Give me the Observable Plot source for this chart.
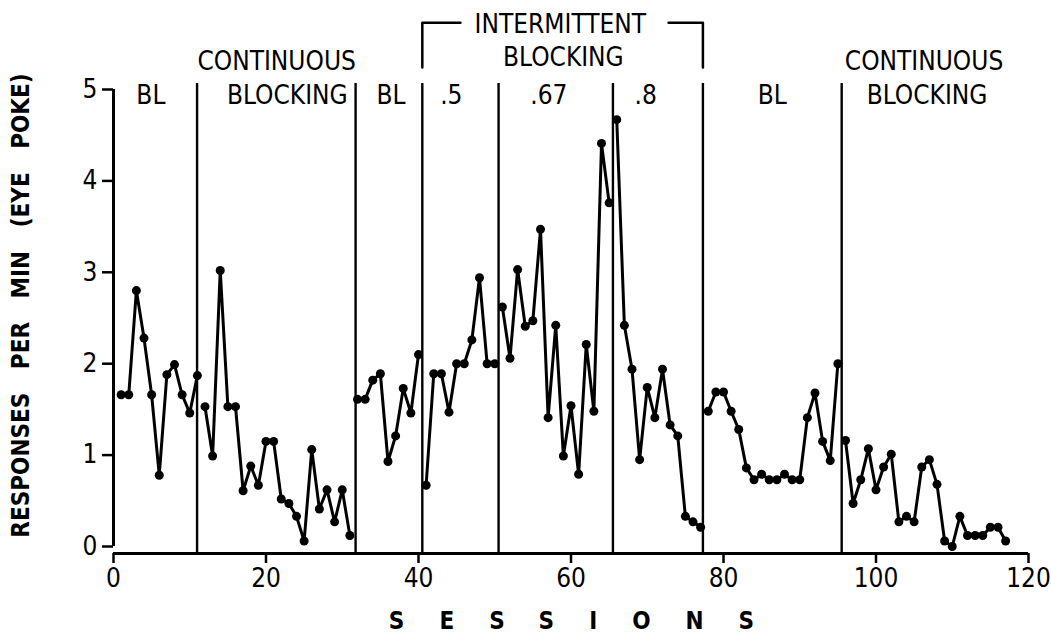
<!DOCTYPE html>
<html>
<head>
<meta charset="utf-8">
<script src="https://cdn.jsdelivr.net/npm/d3@7"></script>
<script src="https://cdn.jsdelivr.net/npm/@observablehq/plot@0.6"></script>
<style>
  html, body { margin: 0; padding: 0; background: #fff; }
  #chart svg { display: block; }
</style>
</head>
<body>
<div id="chart"></div>
<script>
// ---- data ----
const values = [
  // BL (1-11)
  1.66, 1.66, 2.80, 2.28, 1.66, 0.78, 1.88, 1.99, 1.66, 1.46, 1.87,
  // Continuous blocking (12-31)
  1.53, 0.99, 3.02, 1.53, 1.53, 0.61, 0.88, 0.67, 1.15, 1.15,
  0.52, 0.47, 0.33, 0.06, 1.06, 0.41, 0.62, 0.27, 0.62, 0.12,
  // BL (32-40)
  1.61, 1.61, 1.82, 1.89, 0.93, 1.21, 1.73, 1.46, 2.10,
  // .5 (41-50)
  0.67, 1.89, 1.89, 1.47, 2.00, 2.00, 2.26, 2.94, 2.00, 2.00,
  // .67 (51-65)
  2.62, 2.06, 3.03, 2.41, 2.47, 3.47, 1.41, 2.42, 0.99, 1.54, 0.79, 2.21, 1.48, 4.41, 3.76,
  // .8 (66-77)
  4.67, 2.42, 1.94, 0.95, 1.74, 1.41, 1.94, 1.33, 1.21, 0.33, 0.27, 0.21,
  // BL (78-95)
  1.48, 1.69, 1.69, 1.48, 1.28, 0.86, 0.73, 0.79, 0.73, 0.73, 0.79, 0.73, 0.73, 1.41, 1.68, 1.15, 0.94, 2.00,
  // Continuous blocking (96-117)
  1.16, 0.47, 0.73, 1.07, 0.62, 0.87, 1.01, 0.27, 0.33, 0.27, 0.87,
  0.95, 0.68, 0.06, 0.00, 0.33, 0.12, 0.12, 0.12, 0.21, 0.21, 0.06
];
const phaseStarts = [1, 12, 32, 41, 51, 66, 78, 96];   // first session of each phase
const phaseBoundaries = [10.96, 31.75, 40.5, 50.5, 65.5, 77.3, 95.5];
const xTicks = [0, 20, 40, 60, 80, 100, 120];
const yTicks = [0, 1, 2, 3, 4, 5];

const labelText = ["BL", "CONTINUOUS", "BLOCKING", "BL", ".5", ".67", ".8", "BL", "CONTINUOUS", "BLOCKING", "INTERMITTENT", "BLOCKING"];
const labelX    = [4.9, 21.4, 22.8, 36.4, 44.3, 57.1, 69.8, 86.4, 106.3, 106.7, 58.6, 59.0];
const labelY    = [4.93, 5.30, 4.93, 4.93, 4.93, 4.93, 4.93, 4.93, 5.30, 4.93, 5.71, 5.35];

// bracket over intermittent blocking (session / value units)
const bracketLeft = [[40.5, 5.24], [40.5, 5.73], [45.5, 5.73]];
const bracketRight = [[72.8, 5.73], [77.3, 5.73], [77.3, 5.24]];

const yTitle = "RESPONSES PER MIN (EYE POKE)";
const xTitle = "SESSIONS";

// ---- build table ----
const data = values.map((v, i) => {
  const session = i + 1;
  let phase = 0;
  phaseStarts.forEach((s, k) => { if (session >= s) phase = k; });
  return {session, value: v, phase};
});
const labels = labelText.map((t, i) => ({text: t, x: labelX[i], y: labelY[i]}));
const bracket = [
  ...bracketLeft.map(([x, y]) => ({x, y, part: "L"})),
  ...bracketRight.map(([x, y]) => ({x, y, part: "R"}))
];

const FONT = "'Liberation Sans Narrow', 'DejaVu Sans Condensed', 'Roboto Condensed', 'Liberation Sans', sans-serif";

const chart = Plot.plot({
  width: 1051,
  height: 639,
  marginLeft: 113,
  marginRight: 23,
  marginTop: 89,
  marginBottom: 86,
  insetBottom: 7,
  style: {fontFamily: FONT, fontSize: "26px", color: "black", background: "white", overflow: "visible"},
  x: {domain: [0, 120], ticks: xTicks},
  y: {domain: [0, 5], ticks: yTicks},
  marks: [
    Plot.ruleY([0], {dy: 7, strokeWidth: 3, stroke: "black"}),
    Plot.ruleX([0], {y1: 0, y2: 5, strokeWidth: 3, stroke: "black"}),
    Plot.axisX({ticks: xTicks, tickSize: 10, tickPadding: 5, strokeWidth: 2.5, label: null, fontSize: 26, tickFormat: "d"}),
    Plot.axisY({ticks: yTicks, tickSize: 11, tickPadding: 5, strokeWidth: 2.5, label: null, fontSize: 26, tickFormat: "d"}),
    Plot.ruleX(phaseBoundaries, {insetTop: -6, strokeWidth: 2.4, stroke: "black"}),
    Plot.line(data, {x: "session", y: "value", z: "phase", stroke: "black", strokeWidth: 3}),
    Plot.dot(data, {x: "session", y: "value", r: 4.5, fill: "black", stroke: "none"}),
    Plot.text(labels, {x: "x", y: "y", text: "text", fontSize: 26, fill: "black", clip: false}),
    Plot.line(bracket, {x: "x", y: "y", z: "part", stroke: "black", strokeWidth: 2.5, clip: false}),
    Plot.text([yTitle], {frameAnchor: "left", textAnchor: "middle", dx: -92, dy: -16, rotate: -90, fontSize: 24, fontWeight: "bold", fill: "black"}),
    Plot.text([xTitle], {frameAnchor: "bottom", dy: 75, dx: 18, fontSize: 24, fontWeight: "bold", fill: "black"})
  ]
});

d3.select(chart).selectAll("text").each(function() {
  const t = this.textContent;
  if (t === xTitle) d3.select(this).attr("letter-spacing", "35px");
  if (t === yTitle) d3.select(this).attr("word-spacing", "16px");
});
document.getElementById("chart").appendChild(chart);
</script>
</body>
</html>
